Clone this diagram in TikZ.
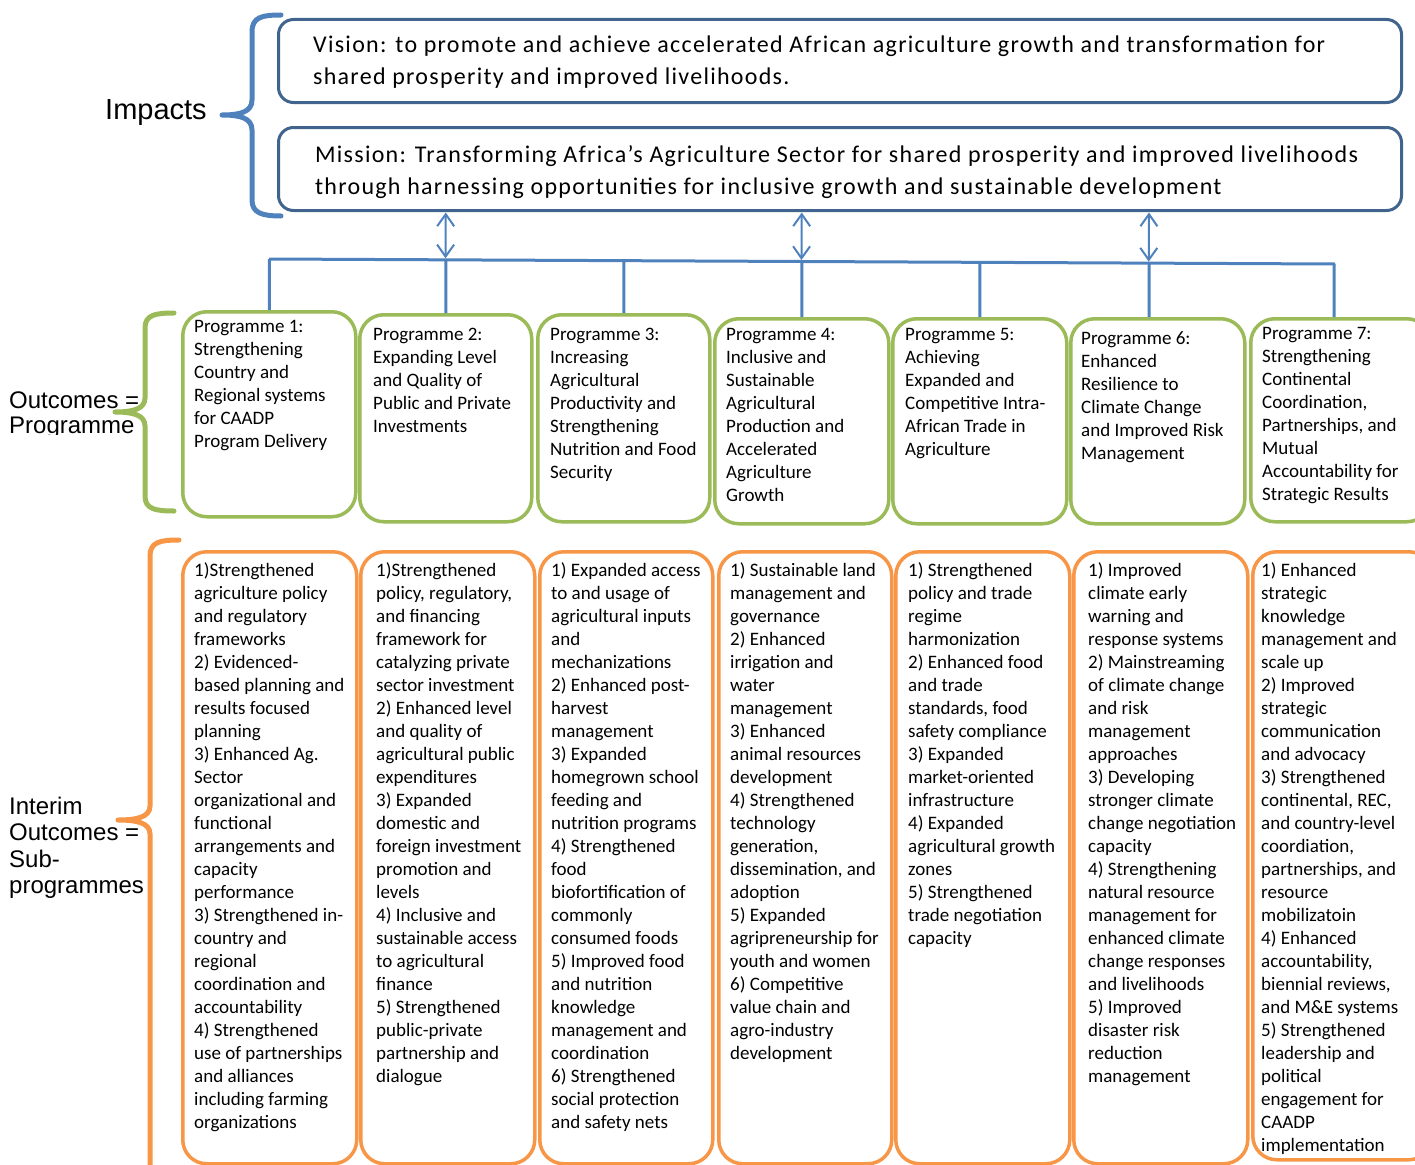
\documentclass[tikz,border=0pt]{standalone}
\usepackage{fontspec}
\setmainfont{Carlito}
\newfontfamily\calsp[LetterSpace=5.3]{Carlito}
\newfontfamily\arialf{Liberation Sans}
\usetikzlibrary{arrows.meta,calc}
\definecolor{dkblue}{HTML}{41648F}
\definecolor{busblue}{HTML}{4F81BD}
\definecolor{grn}{HTML}{9BBB59}
\definecolor{orng}{HTML}{F79646}
\begin{document}
\begin{tikzpicture}[x=1pt,y=-1pt,
  topbox/.style={draw=dkblue,line width=3pt,rounded corners=15pt,fill=white,inner sep=0,anchor=north west},
  progbox/.style={draw=grn,line width=3.5pt,rounded corners=24pt,fill=white,inner sep=0,anchor=north west},
  subbox/.style={draw=orng,line width=3.5pt,rounded corners=24pt,fill=white,inner sep=0,anchor=north west},
  bigtxt/.style={anchor=north west,inner sep=0,align=left,font=\calsp\fontsize{24}{32}\selectfont},
  ptxt/.style={anchor=north west,inner sep=0,align=left,font=\fontsize{19}{23}\selectfont},
  lbl/.style={anchor=north west,inner sep=0,align=left},
  bus/.style={draw=busblue,line width=3pt},
  dbl/.style={draw=busblue,line width=2pt,{Straight Barb[length=12pt,width=17pt]}-{Straight Barb[length=12pt,width=17pt]}},
  brace/.style={line width=5pt,line cap=round,line join=round}]
\useasboundingbox (0,0) rectangle (1415,1164);
\clip (0,0) rectangle (1415,1164);

% bus
\coordinate (busL) at (269,259);
\coordinate (busR) at (1335,264);
\draw[bus] (busL) -- (busR);

% top boxes
\node[topbox,minimum width=1123,minimum height=83] (v) at (277,18) {};
\node[topbox,minimum width=1123,minimum height=83] (m) at (277,126) {};
\node[bigtxt] (vt) at (313,29.6) {\strut Vision: to promote and achieve accelerated African agriculture growth and transformation for\\shared prosperity and improved livelihoods.};
\node[bigtxt] (mt) at (315,139.6) {\strut Mission: Transforming Africa’s Agriculture Sector for shared prosperity and improved livelihoods\\through harnessing opportunities for inclusive growth and sustainable development};

% programme boxes
\node[progbox,minimum width=173,minimum height=205] (p1) at (181,310) {};
\node[progbox,minimum width=172,minimum height=207] (p2) at (358,313) {};
\node[progbox,minimum width=172,minimum height=207] (p3) at (536,313) {};
\node[progbox,minimum width=174,minimum height=205] (p4) at (713,317) {};
\node[progbox,minimum width=174,minimum height=205] (p5) at (891,317) {};
\node[progbox,minimum width=174,minimum height=205] (p6) at (1069,317) {};
\node[progbox,minimum width=180,minimum height=203] (p7) at (1249,317) {};
\coordinate (d6) at (1149,317);
\coordinate (d7) at (1334,317);

% drops from bus
\foreach \n in {p1,p2,p3,p4,p5}{
  \draw[bus] (\n.north) -- ($(busL)!(\n.north)!(busR)$);
}
\draw[bus] (d6) -- ($(busL)!(d6)!(busR)$);
\draw[bus] (d7) -- ($(busL)!(d7)!(busR)$);

% double arrows
\draw[dbl,shorten <=0.5pt,shorten >=1.5pt] (m.south -| p2.north) -- ($(busL)!(m.south -| p2.north)!(busR)$);
\draw[dbl,shorten <=0.5pt,shorten >=1.5pt] (m.south -| p4.north) -- ($(busL)!(m.south -| p4.north)!(busR)$);
\draw[dbl,shorten <=0.5pt,shorten >=1.5pt] (m.south -| d6) -- ($(busL)!(m.south -| d6)!(busR)$);

% programme texts
\node[ptxt] (p1t) at (194,315.9) {\strut Programme 1:\\Strengthening\\Country and\\Regional systems\\for CAADP\\Program Delivery};
\node[ptxt] (p2t) at (373,323.9) {\strut Programme 2:\\Expanding Level\\and Quality of\\Public and Private\\Investments};
\node[ptxt] (p3t) at (550,323.9) {\strut Programme 3:\\Increasing\\Agricultural\\Productivity and\\Strengthening\\Nutrition and Food\\Security};
\node[ptxt] (p4t) at (726,323.9) {\strut Programme 4:\\Inclusive and\\Sustainable\\Agricultural\\Production and\\Accelerated\\Agriculture\\Growth};
\node[ptxt] (p5t) at (905,323.9) {\strut Programme 5:\\Achieving\\Expanded and\\Competitive Intra-\\African Trade in\\Agriculture};
\node[ptxt] (p6t) at (1081,327.9) {\strut Programme 6:\\Enhanced\\Resilience to\\Climate Change\\and Improved Risk\\Management};
\node[ptxt] (p7t) at (1262,322.9) {\strut Programme 7:\\Strengthening\\Continental\\Coordination,\\Partnerships, and\\Mutual\\Accountability for\\Strategic Results};

% sub-programme boxes
\node[subbox,minimum width=174,minimum height=612] (s1) at (181,550) {};
\node[subbox,minimum width=174,minimum height=612] (s2) at (359,550) {};
\node[subbox,minimum width=173,minimum height=612] (s3) at (538,550) {};
\node[subbox,minimum width=173,minimum height=612] (s4) at (717,550) {};
\node[subbox,minimum width=174,minimum height=612] (s5) at (894,550) {};
\node[subbox,minimum width=174,minimum height=612] (s6) at (1072,550) {};
\node[subbox,minimum width=180,minimum height=608] (s7) at (1251,550) {};

\node[ptxt] (s1t) at (194,559.9) {\strut 1)Strengthened\\agriculture policy\\and regulatory\\frameworks\\2) Evidenced-\\based planning and\\results focused\\planning\\3) Enhanced Ag.\\Sector\\organizational and\\functional\\arrangements and\\capacity\\performance\\3) Strengthened in-\\country and\\regional\\coordination and\\accountability\\4) Strengthened\\use of partnerships\\and alliances\\including farming\\organizations};
\node[ptxt] (s2t) at (376,559.9) {\strut 1)Strengthened\\policy, regulatory,\\and financing\\framework for\\catalyzing private\\sector investment\\2) Enhanced level\\and quality of\\agricultural public\\expenditures\\3) Expanded\\domestic and\\foreign investment\\promotion and\\levels\\4) Inclusive and\\sustainable access\\to agricultural\\finance\\5) Strengthened\\public-private\\partnership and\\dialogue};
\node[ptxt] (s3t) at (551,559.9) {\strut 1) Expanded access\\to and usage of\\agricultural inputs\\and\\mechanizations\\2) Enhanced post-\\harvest\\management\\3) Expanded\\homegrown school\\feeding and\\nutrition programs\\4) Strengthened\\food\\biofortification of\\commonly\\consumed foods\\5) Improved food\\and nutrition\\knowledge\\management and\\coordination\\6) Strengthened\\social protection\\and safety nets};
\node[ptxt] (s4t) at (730,559.9) {\strut 1) Sustainable land\\management and\\governance\\2) Enhanced\\irrigation and\\water\\management\\3) Enhanced\\animal resources\\development\\4) Strengthened\\technology\\generation,\\dissemination, and\\adoption\\5) Expanded\\agripreneurship for\\youth and women\\6) Competitive\\value chain and\\agro-industry\\development};
\node[ptxt] (s5t) at (908,559.9) {\strut 1) Strengthened\\policy and trade\\regime\\harmonization\\2) Enhanced food\\and trade\\standards, food\\safety compliance\\3) Expanded\\market-oriented\\infrastructure\\4) Expanded\\agricultural growth\\zones\\5) Strengthened\\trade negotiation\\capacity};
\node[ptxt] (s6t) at (1088,559.9) {\strut 1) Improved\\climate early\\warning and\\response systems\\2) Mainstreaming\\of climate change\\and risk\\management\\approaches\\3) Developing\\stronger climate\\change negotiation\\capacity\\4) Strengthening\\natural resource\\management for\\enhanced climate\\change responses\\and livelihoods\\5) Improved\\disaster risk\\reduction\\management};
\node[ptxt] (s7t) at (1261,559.9) {\strut 1) Enhanced\\strategic\\knowledge\\management and\\scale up\\2) Improved\\strategic\\communication\\and advocacy\\3) Strengthened\\continental, REC,\\and country-level\\coordiation,\\partnerships, and\\resource\\mobilizatoin\\4) Enhanced\\accountability,\\biennial reviews,\\and M\&E systems\\5) Strengthened\\leadership and\\political\\engagement for\\CAADP\\implementation};

% braces
\draw[brace,draw=busblue] (281,15) .. controls (262,15) and (252,17) .. (252,32) -- (252,100) .. controls (252,112) and (240,115) .. (222,115) .. controls (240,115) and (252,118) .. (252,130) -- (252,200) .. controls (252,213) and (262,216) .. (281,216);
\draw[brace,draw=grn] (174,313) .. controls (155,313) and (145,315) .. (145,328) -- (145,398) .. controls (145,409) and (133,412) .. (115,412) .. controls (133,412) and (145,415) .. (145,426) -- (145,496) .. controls (145,509) and (155,511) .. (174,511);
\draw[brace,draw=orng] (179,540) .. controls (160,540) and (150,542) .. (150,556) -- (150,806) .. controls (150,817) and (137,820) .. (118,820) .. controls (137,820) and (150,823) .. (150,834) -- (150,1175);

% left labels
\node[anchor=base west,inner sep=0,font=\arialf\fontsize{29}{32}\selectfont] (imp) at (105,119) {Impacts};
\begin{scope}
\clip (0,380) rectangle (200,434);
\node[lbl,font=\arialf\fontsize{24}{25}\selectfont] (outc) at (9,390.5) {\strut Outcomes =\\Programme};
\end{scope}
\node[lbl,font=\arialf\fontsize{24}{26.5}\selectfont] (intr) at (9,795.45) {\strut Interim\\Outcomes =\\Sub-\\programmes};
\end{tikzpicture}
\end{document}
